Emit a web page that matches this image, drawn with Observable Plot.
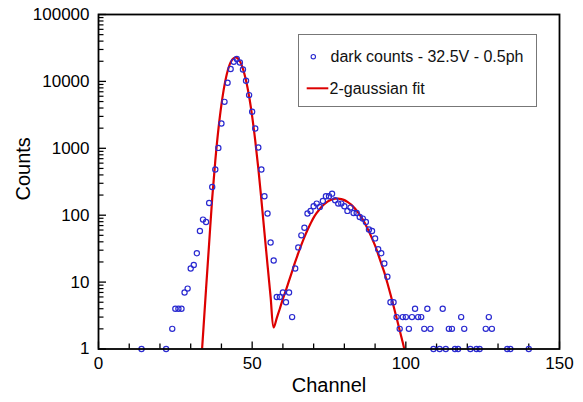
<!DOCTYPE html>
<html><head><meta charset="utf-8">
<script src="https://cdn.jsdelivr.net/npm/d3@7"></script>
<script src="https://cdn.jsdelivr.net/npm/@observablehq/plot@0.6"></script>
<style>
body{margin:0;background:#fff;}
#wrap{position:relative;width:583px;height:402px;font-family:Arial,"Liberation Sans",Helvetica,sans-serif;}
#legend{position:absolute;left:0;top:0;pointer-events:none;}
</style></head><body><div id="wrap"></div>
<script>
// measured data: channel -> counts
const channels = [14,22,24,25,26,27,28,29,30,31,32,33,34,35,36,37,38,39,40,41,42,43,44,45,46,47,48,49,50,51,52,53,54,55,56,57,58,59,60,61,62,63,64,65,66,67,68,69,70,71,72,73,74,75,76,77,78,79,80,81,82,83,84,85,86,87,88,89,90,91,92,93,94,95,96,97,98,99,100,101,102,103,104,105,106,107,108,109,111,112,113,114,115,116,117,118,119,121,123,124,126,127,128,133,134,140];
const counts   = [1,1,2,4,4,4,7,8,16,18,27,58,86,79,152,264,482,1014,2350,4950,9530,15300,19600,21600,19200,15100,10200,6240,3510,1980,1030,482,192,106,39,21,6,6,7,5,7,3,16,33,50,65,106,116,136,149,133,163,192,192,210,167,149,149,136,116,130,108,108,94,89,79,61,58,45,31,27,19,12,5,5,3,2,3,3,2,3,4,3,3,2,4,2,1,1,4,1,2,2,1,1,3,2,1,1,1,2,3,2,1,1,1];

// 2-gaussian fit curve
const fitChannels = [33.7,34,35,36,37,38,39,40,41,42,43,44,45,46,47,48,49,50,51,52,53,54,55,56,57,58,59,60,61,62,63,64,65,66,67,68,69,70,71,72,73,74,75,76,77,78,79,80,81,82,83,84,85,86,87,88,89,90,91,92,93,94,95,96,97,98,99,99.5];
const fitCounts   = [1,1.6,8,38,180,650,1900,4500,8800,14200,19300,22300,22600,20000,15400,10300,6000,3000,1300,500,170,55,18,6,2.1,2.9,4,5.6,7.6,10.5,14.5,20,27,36,47,60,75,92,108,124,140,153,164,172,176,177,174,168,158,146,132,117,101,86,71,57,45,35,26,19,14,9.7,6.6,4.4,2.9,1.9,1.25,1];

const xMajorTicks = [0,50,100,150];
const xMinorTicks = [10,20,30,40,60,70,80,90,110,120,130,140];
const yMajorTicks = [1,10,100,1000,10000,100000];
const yMinorTicks = [2,3,4,5,6,7,8,9].flatMap(m => [1,10,100,1000,10000].map(d => m*d));

const xTitle = "Channel";
const yTitle = "Counts";
const seriesLabel = "dark counts - 32.5V - 0.5ph";
const fitLabel = "2-gaussian fit";

const data = channels.map((c,i)=>({channel:c, count:counts[i]}));
const fit = fitChannels.map((c,i)=>({channel:c, count:fitCounts[i]}));

const font = "Arial, 'Liberation Sans', Helvetica, sans-serif";
const chart = Plot.plot({
  width:583, height:402,
  marginLeft:98, marginRight:24, marginTop:14, marginBottom:53.5,
  style:{fontFamily:font, background:"transparent", color:"#000", overflow:"visible"},
  x:{domain:[0,150]},
  y:{type:"log", domain:[1,100000]},
  marks:[
    Plot.axisX(xMinorTicks, {tickSize:-5, fill:"none", label:null, strokeWidth:1.3}),
    Plot.axisX(xMajorTicks, {tickSize:-7, fill:"none", label:null, strokeWidth:1.3}),
    Plot.axisX(xMajorTicks, {tickSize:0, tickPadding:8, fontSize:17, label:null, tickFormat:d=>String(d)}),
    Plot.axisY(yMinorTicks, {tickSize:-5.5, fill:"none", label:null, strokeWidth:1.2}),
    Plot.axisY(yMajorTicks, {tickSize:-8, fill:"none", label:null, strokeWidth:1.3}),
    Plot.axisY(yMajorTicks, {tickSize:0, tickPadding:9, fontSize:17, label:null, tickFormat:d=>String(d)}),
    Plot.text([xTitle], {frameAnchor:"bottom", dy:43, fontSize:20, text:d=>d}),
    Plot.text([yTitle], {frameAnchor:"left", dx:-74.5, dy:18.75, rotate:-90, fontSize:20, text:d=>d}),
    Plot.line(fit, {x:"channel", y:"count", stroke:"#dd0000", strokeWidth:2.2, clip:true, curve:"catmull-rom"}),
    Plot.dot(data, {x:"channel", y:"count", r:2.6, stroke:"#2a2ad0", strokeWidth:1.2, fill:"none"}),
    Plot.frame({stroke:"#000", strokeWidth:1.8})
  ]
});
const wrap = document.getElementById("wrap");
wrap.appendChild(chart);

// legend overlay
const ns = "http://www.w3.org/2000/svg";
const lg = document.createElementNS(ns,"svg");
lg.setAttribute("id","legend");
lg.setAttribute("width","583"); lg.setAttribute("height","402");
lg.innerHTML = `
<rect x="298.5" y="34.5" width="238" height="72" fill="#fff" stroke="#777" stroke-width="1"/>
<circle cx="313.3" cy="56.7" r="2.2" fill="none" stroke="#2a2ad0" stroke-width="1.1"/>
<text x="330.5" y="56.7" dy="0.35em" font-size="16" font-family="${font}" fill="#111"></text>
<line x1="306.7" x2="328.3" y1="88.3" y2="88.3" stroke="#dd0000" stroke-width="2"/>
<text x="329.5" y="88.3" dy="0.35em" font-size="16" font-family="${font}" fill="#111"></text>`;
const texts = lg.querySelectorAll("text");
texts[0].textContent = seriesLabel;
texts[1].textContent = fitLabel;
wrap.appendChild(lg);
</script>
</body></html>
